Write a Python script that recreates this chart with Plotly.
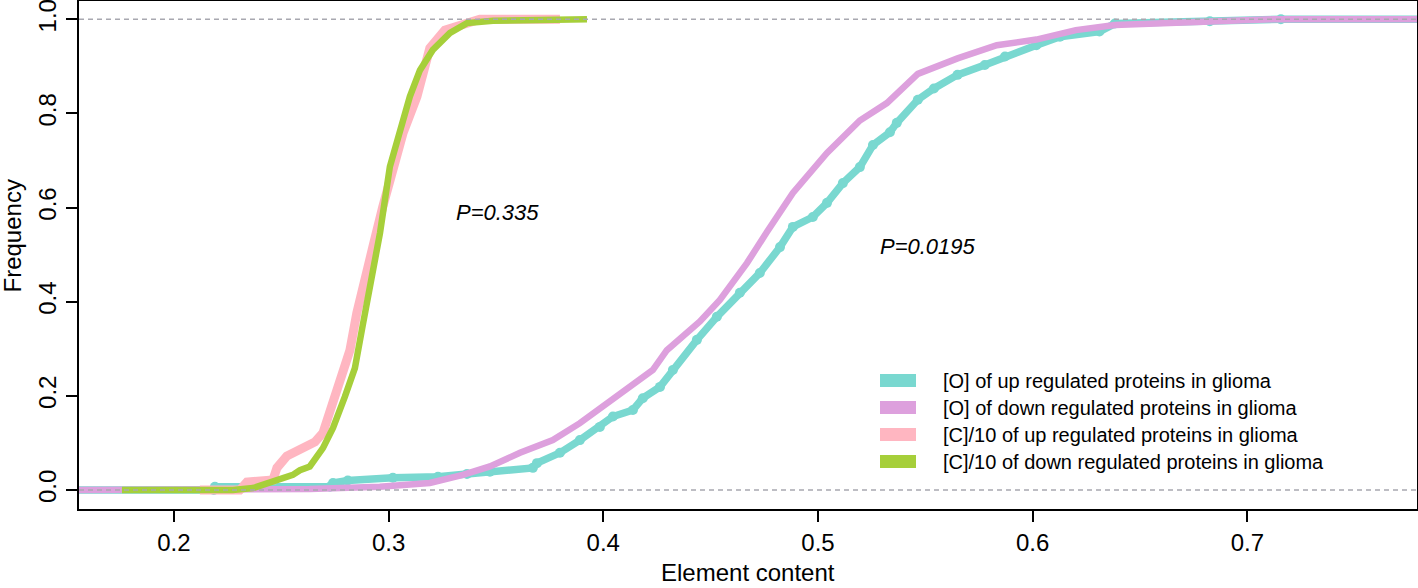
import plotly.graph_objects as go

# ---- data (ECDF curves) ----
o_up_x = [0.147, 0.2186, 0.2191, 0.2727, 0.2741, 0.2810, 0.3020, 0.3230, 0.3365, 0.3472,
          0.3672, 0.3691, 0.3798, 0.3891, 0.3984, 0.4045, 0.4138, 0.4184, 0.4264, 0.4324,
          0.4436, 0.4529, 0.4636, 0.4729, 0.4823, 0.4883, 0.4976, 0.5042, 0.5116, 0.5195,
          0.5256, 0.5335, 0.5367, 0.5465, 0.5540, 0.5650, 0.5777, 0.5871, 0.6017, 0.6127,
          0.6311, 0.6383, 0.6825, 0.7156, 0.82]
o_up_y = [0.0, 0.0, 0.007, 0.007, 0.015, 0.020, 0.026, 0.028, 0.034, 0.039,
          0.047, 0.057, 0.079, 0.106, 0.134, 0.156, 0.170, 0.195, 0.219, 0.255,
          0.319, 0.368, 0.419, 0.461, 0.516, 0.559, 0.580, 0.610, 0.652, 0.686,
          0.733, 0.760, 0.780, 0.829, 0.853, 0.882, 0.903, 0.921, 0.945, 0.963,
          0.974, 0.991, 0.996, 1.0, 1.0]

o_down_x = [0.147, 0.2587, 0.2633, 0.2959, 0.3192, 0.3346, 0.3472, 0.3612, 0.3765, 0.3891,
            0.4017, 0.4138, 0.4231, 0.4296, 0.4389, 0.4450, 0.4543, 0.4669, 0.4762, 0.4883,
            0.5042, 0.5195, 0.5321, 0.5465, 0.5650, 0.5833, 0.6017, 0.6201, 0.6383, 0.6660,
            0.6825, 0.7119, 0.82]
o_down_y = [0.0, 0.0, 0.002, 0.007, 0.015, 0.032, 0.050, 0.079, 0.106, 0.142,
            0.185, 0.227, 0.255, 0.297, 0.334, 0.358, 0.404, 0.482, 0.548, 0.631,
            0.716, 0.785, 0.822, 0.884, 0.917, 0.945, 0.957, 0.977, 0.988, 0.993,
            0.997, 1.0, 1.0]

c_up_x = [0.2121, 0.2307, 0.2321, 0.2340, 0.2461, 0.2480, 0.2526, 0.2601, 0.2657, 0.2694,
          0.2727, 0.2759, 0.2820, 0.2852, 0.2899, 0.2927, 0.2973, 0.3020, 0.3067, 0.3132,
          0.3164, 0.3192, 0.3262, 0.3379, 0.3425, 0.3798]
c_up_y = [0.0, 0.0, 0.007, 0.017, 0.021, 0.047, 0.072, 0.087, 0.102, 0.121,
          0.170, 0.212, 0.297, 0.376, 0.474, 0.517, 0.602, 0.687, 0.758, 0.836,
          0.892, 0.939, 0.977, 0.994, 1.0, 1.0]

c_down_x = [0.1758, 0.2275, 0.2368, 0.2452, 0.2554, 0.2587, 0.2633, 0.2694, 0.2741, 0.2796,
            0.2843, 0.2880, 0.2913, 0.2946, 0.2960, 0.3006, 0.3053, 0.3099, 0.3146, 0.3206,
            0.3286, 0.3365, 0.3486, 0.3924]
c_down_y = [0.0, 0.0, 0.004, 0.018, 0.032, 0.042, 0.050, 0.089, 0.132, 0.198,
            0.259, 0.351, 0.431, 0.510, 0.546, 0.687, 0.758, 0.836, 0.892, 0.935,
            0.971, 0.992, 0.997, 1.0]

series_names = ["[O] of up regulated proteins in glioma",
                "[O] of down regulated proteins in glioma",
                "[C]/10 of up regulated proteins in glioma",
                "[C]/10 of down regulated proteins in glioma"]
colors = ["#79D8D0", "#DDA0DD", "#FFB6C1", "#A6CF3A"]

x_ticks = [0.2, 0.3, 0.4, 0.5, 0.6, 0.7]
y_ticks = [0.0, 0.2, 0.4, 0.6, 0.8, 1.0]
p_labels = ["P=0.335", "P=0.0195"]
p_pos = [(0.3509, 0.5885), (0.5512, 0.518)]

FONT = "Liberation Sans, Arial, Helvetica, sans-serif"

fig = go.Figure()
fig.add_trace(go.Scatter(x=o_up_x, y=o_up_y, mode="lines+markers", line=dict(color=colors[0], width=7.5),
                         marker=dict(size=10, color=colors[0]), name=series_names[0]))
fig.add_trace(go.Scatter(x=o_down_x, y=o_down_y, mode="lines", line=dict(color=colors[1], width=6.5),
                         name=series_names[1]))
fig.add_trace(go.Scatter(x=c_up_x, y=c_up_y, mode="lines", line=dict(color=colors[2], width=9),
                         name=series_names[2]))
fig.add_trace(go.Scatter(x=c_down_x, y=c_down_y, mode="lines", line=dict(color=colors[3], width=6.5),
                         name=series_names[3]))

# dashed 0 / 1 reference lines
for yv in (0.0, 1.0):
    fig.add_shape(type="line", xref="paper", yref="y", x0=0, x1=1, y0=yv, y1=yv,
                  line=dict(color="#A8A8B0", width=1.5, dash="5px,4px"), layer="above")

L, R, T, B = 79, 1, 1, 79
W, H = 1418, 588
pw, ph = W - L - R, H - T - B

def px_x(p):
    return (p - L) / pw

def px_y(p):
    return (H - B - p) / ph

# legend (manual, boxes + text)
row_y = [380.5, 407.5, 434.5, 461.5]
for i, name in enumerate(series_names):
    fig.add_shape(type="rect", xref="paper", yref="paper",
                  x0=px_x(880), x1=px_x(916), y0=px_y(row_y[i] + 6.5), y1=px_y(row_y[i] - 6.5),
                  fillcolor=colors[i], line=dict(width=0), layer="above")
    fig.add_annotation(xref="paper", yref="paper", x=px_x(941), y=px_y(row_y[i]), text=name,
                       showarrow=False, xanchor="left", yanchor="middle",
                       font=dict(family=FONT, size=20, color="black"))

for txt, (xv, yv) in zip(p_labels, p_pos):
    fig.add_annotation(x=xv, y=yv, text=f"<i>{txt}</i>", showarrow=False,
                       xanchor="center", yanchor="middle",
                       font=dict(family=FONT, size=22, color="black"))

# axis titles
fig.add_annotation(xref="paper", yref="paper", x=px_x(748), y=px_y(572), text="Element content",
                   showarrow=False, xanchor="center", yanchor="middle",
                   font=dict(family=FONT, size=24, color="black"))
fig.add_annotation(xref="paper", yref="paper", x=px_x(12), y=px_y(236.5), text="Frequency",
                   showarrow=False, xanchor="center", yanchor="middle", textangle=-90,
                   font=dict(family=FONT, size=24, color="black"))

fig.update_layout(
    width=W, height=H,
    margin=dict(l=L, r=R, t=T, b=B, pad=0, autoexpand=False),
    plot_bgcolor="white", paper_bgcolor="white",
    showlegend=False,
    font=dict(family=FONT, size=24, color="black"),
)
fig.update_xaxes(range=[0.1558, 0.7790], tickvals=x_ticks, ticktext=[f"{v:.1f}" for v in x_ticks],
                 showgrid=False, zeroline=False, showline=True, mirror=True, linecolor="black",
                 linewidth=2, ticks="outside", ticklen=11, tickwidth=1.5, tickcolor="black",
                 automargin=False, ticklabeloverflow="allow",
                 tickfont=dict(family=FONT, size=24, color="black"))
fig.update_yaxes(range=[-0.0404, 1.0389], tickvals=y_ticks, ticktext=[f"{v:.1f}" for v in y_ticks],
                 showgrid=False, zeroline=False, showline=True, mirror=True, linecolor="black",
                 linewidth=2, ticks="outside", ticklen=11, tickwidth=1.5, tickcolor="black",
                 automargin=False, ticklabeloverflow="allow", tickangle=-90,
                 tickfont=dict(family=FONT, size=24, color="black"))

fig.write_html("out.html", config={"displayModeBar": False},
               post_script="document.body.style.margin='0';document.body.style.overflow='hidden';")
